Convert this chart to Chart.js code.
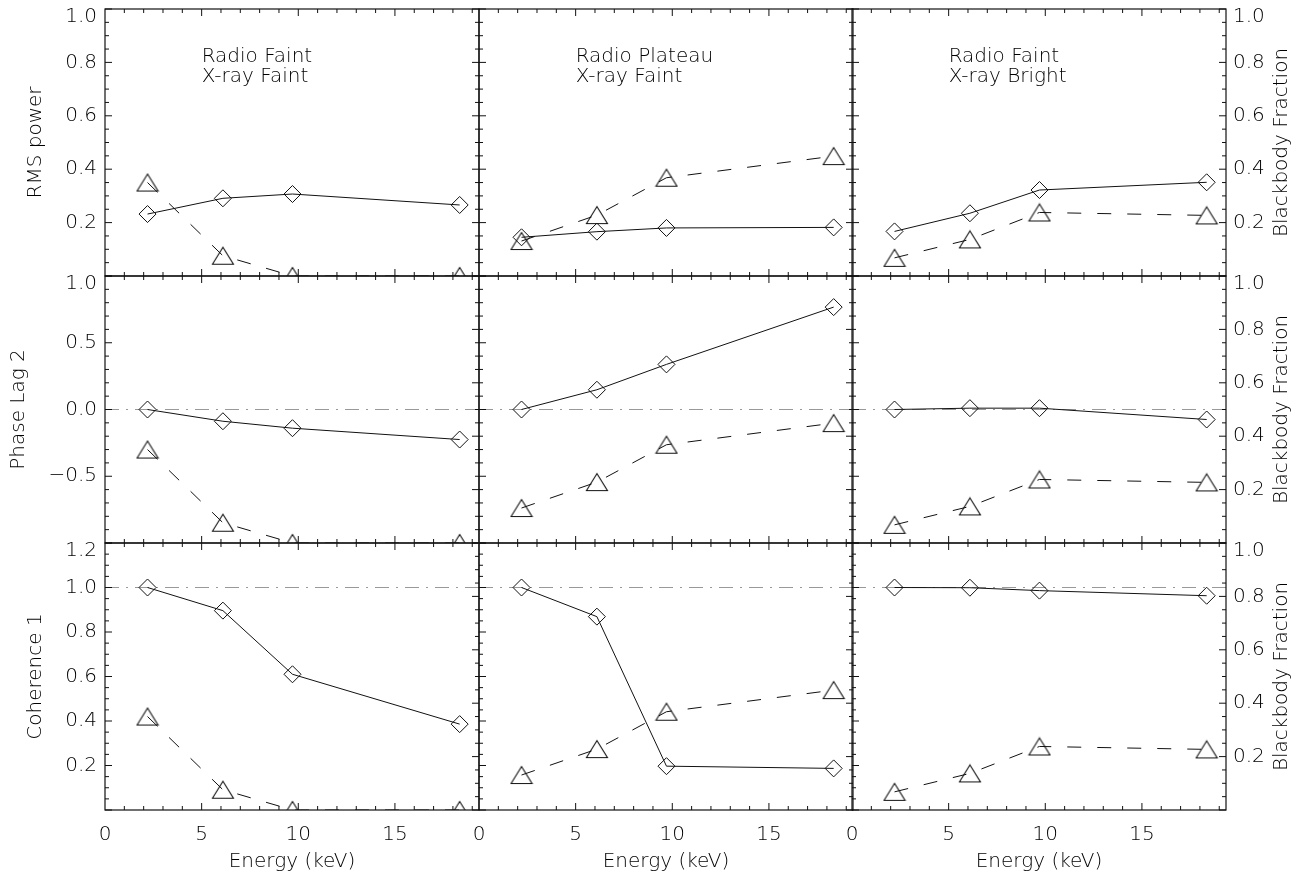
<!DOCTYPE html>
<html>
<head>
<meta charset="utf-8">
<script src="https://cdn.jsdelivr.net/npm/chart.js@4"></script>
<style>
  body { margin: 0; background: #fff; width: 1310px; height: 879px; position: relative; overflow: hidden; }
  canvas { position: absolute; }
</style>
</head>
<body>
<script>
// ---------------- Data ----------------
const energy = [2.2, 6.1, 9.7, 18.35];               // keV, same in all panels
const energyTicks = [0, 5, 10, 15];
const energyMax = 19.35;

const stateLabels = [['Radio Faint', 'X-ray Faint'], ['Radio Plateau', 'X-ray Faint'], ['Radio Faint', 'X-ray Bright']];
const rowTitles = ['RMS power', 'Phase Lag 2', 'Coherence 1'];

// one array per state (column)
const rmsPower  = [[0.232, 0.291, 0.307, 0.266], [0.145, 0.166, 0.180, 0.182], [0.167, 0.235, 0.322, 0.351]];
const phaseLag  = [[0.0, -0.088, -0.14, -0.225], [0.0, 0.148, 0.338, 0.767], [0.0, 0.01, 0.01, -0.075]];
const coherence = [[1.0, 0.896, 0.61, 0.386], [1.0, 0.869, 0.197, 0.187], [1.0, 0.999, 0.986, 0.963]];
const bbFraction = [[0.35, 0.076, 0.0, 0.0], [0.131, 0.228, 0.368, 0.449], [0.068, 0.137, 0.238, 0.227]];

const rmsTicks = [0, 0.2, 0.4, 0.6, 0.8, 1.0];
const lagTicks = [-1.0, -0.5, 0.0, 0.5, 1.0];
const cohTicks = [0, 0.2, 0.4, 0.6, 0.8, 1.0, 1.2];
const bbTicks  = [0, 0.2, 0.4, 0.6, 0.8, 1.0];

const rowSeries = [rmsPower, phaseLag, coherence];
const rowTicks = [rmsTicks, lagTicks, cohTicks];
const rowMinor = [0.05, 0.1, 0.05];
const bbMinor = 0.05;
const rowRefLine = [null, 0.0, 1.0];

// ---------------- Layout ----------------
const panelX = [105, 479, 852];
const panelY = [9, 276, 543];
const panelW = 374, panelH = 267;
const padL = 105, padR = 85, padT = 9, padB = 69;
const rowTitlePad = [24, 7, 24];

const INK = '#111';
const TEXT = '#000';
const FONT = { family: "'DejaVu Sans', sans-serif", size: 20, weight: '200' };
const fontStr = "200 20px 'DejaVu Sans', sans-serif";

const fmt = v => v.toFixed(1).replace('-', '\u2212');

// hollow IDL style triangle (centre of box on the data point)
function makeTriangle() {
  const cv = document.createElement('canvas');
  cv.width = 24; cv.height = 20;
  const g = cv.getContext('2d');
  g.strokeStyle = INK; g.lineWidth = 1.1;
  g.beginPath();
  g.moveTo(1.5, 18.5); g.lineTo(12, 1.5); g.lineTo(22.5, 18.5);
  g.closePath(); g.stroke();
  return cv;
}
const triangleImg = makeTriangle();

// fixed axis boxes, no label overhang padding
function fixBox(size, vertical) {
  return s => {
    if (vertical) s.width = size; else s.height = size;
    s.paddingTop = s.paddingBottom = s.paddingLeft = s.paddingRight = 0;
  };
}

// ---------------- Plugin: frame, inward ticks, labels ----------------
function tickRun(min, max, step, majors) {
  const n = Math.round((max - min) / step);
  const out = [];
  for (let k = 0; k <= n; k++) {
    const v = min + k * step;
    out.push({ v, major: majors.some(m => Math.abs(m - v) < 1e-6) });
  }
  return out;
}

const idlFrame = {
  id: 'idlFrame',
  beforeDatasetsDraw(chart, args, opts) {
    const ref = rowRefLine[opts.row];
    if (ref === null) return;
    const { ctx, chartArea: a } = chart;
    const y = chart.scales.y.getPixelForValue(ref);
    ctx.save();
    ctx.strokeStyle = '#999'; ctx.lineWidth = 1;
    ctx.setLineDash([14, 7, 2, 7]);
    ctx.beginPath(); ctx.moveTo(a.left, y); ctx.lineTo(a.right, y); ctx.stroke();
    ctx.restore();
  },
  afterDraw(chart, args, opts) {
    const { ctx, chartArea: a, scales } = chart;
    const { row, col } = opts;
    ctx.save();
    ctx.strokeStyle = INK; ctx.lineWidth = 1.2;
    ctx.strokeRect(a.left, a.top, a.right - a.left, a.bottom - a.top);

    ctx.lineWidth = 1;
    ctx.beginPath();
    // x ticks, bottom and top edges
    for (let v = 1; v < energyMax; v++) {
      const len = v % 5 === 0 ? 7 : 4;
      const x = scales.x.getPixelForValue(v);
      ctx.moveTo(x, a.bottom); ctx.lineTo(x, a.bottom - len);
      ctx.moveTo(x, a.top); ctx.lineTo(x, a.top + len);
    }
    // left y ticks
    const yt = rowTicks[row];
    tickRun(yt[0], yt[yt.length - 1], rowMinor[row], yt).forEach(t => {
      const y = scales.y.getPixelForValue(t.v);
      ctx.moveTo(a.left, y); ctx.lineTo(a.left + (t.major ? 7 : 4), y);
    });
    // right y ticks
    tickRun(bbTicks[0], bbTicks[bbTicks.length - 1], bbMinor, bbTicks).forEach(t => {
      const y = scales.y2.getPixelForValue(t.v);
      ctx.moveTo(a.right, y); ctx.lineTo(a.right - (t.major ? 7 : 4), y);
    });
    ctx.stroke();

    ctx.fillStyle = TEXT;
    ctx.font = fontStr;
    ctx.textBaseline = 'middle';
    // top tick labels sit just inside the panel, as IDL does
    if (col === 0) {
      ctx.textAlign = 'right';
      ctx.fillText(fmt(yt[yt.length - 1]), a.left - 8, a.top + 8);
    }
    if (col === 2) {
      ctx.textAlign = 'left';
      ctx.fillText(fmt(bbTicks[bbTicks.length - 1]), a.right + 7, a.top + 8);
      ctx.save();
      ctx.translate(1282 - (panelX[2] - padL), (a.top + a.bottom) / 2);
      ctx.rotate(-Math.PI / 2);
      ctx.textAlign = 'center';
      ctx.fillText('Blackbody Fraction', 0, 0);
      ctx.restore();
    }
    // state label in the top row
    if (row === 0) {
      ctx.textAlign = 'left';
      ctx.textBaseline = 'alphabetic';
      const x = scales.x.getPixelForValue(5);
      ctx.fillText(stateLabels[col][0], x, scales.y.getPixelForValue(0.8));
      ctx.fillText(stateLabels[col][1], x, scales.y.getPixelForValue(0.727));
    }
    ctx.restore();
  }
};

// ---------------- Panels ----------------
for (let r = 0; r < 3; r++) {
  for (let c = 0; c < 3; c++) {
    const cv = document.createElement('canvas');
    cv.width = padL + panelW + padR;
    cv.height = padT + panelH + padB;
    cv.style.left = (panelX[c] - padL) + 'px';
    cv.style.top = (panelY[r] - padT) + 'px';
    document.body.appendChild(cv);

    const yt = rowTicks[r];
    new Chart(cv, {
      type: 'line',
      data: {
        datasets: [{
          data: energy.map((e, i) => ({ x: e, y: rowSeries[r][c][i] })),
          yAxisID: 'y',
          borderColor: INK, borderWidth: 1,
          pointStyle: 'rectRot', pointRadius: 8.5,
          pointBorderColor: INK, pointBorderWidth: 1,
          pointBackgroundColor: 'rgba(0,0,0,0)',
          clip: 0
        }, {
          data: energy.map((e, i) => ({ x: e, y: bbFraction[c][i] })),
          yAxisID: 'y2',
          borderColor: INK, borderWidth: 1, borderDash: [14, 16],
          pointStyle: triangleImg, pointRadius: 10,
          clip: 0
        }]
      },
      options: {
        responsive: false,
        animation: false,
        devicePixelRatio: 1,
        layout: { padding: { top: padT, left: 0, right: 0, bottom: 0 }, autoPadding: false },
        plugins: {
          legend: { display: false },
          tooltip: { enabled: false },
          idlFrame: { row: r, col: c }
        },
        scales: {
          x: {
            type: 'linear', position: 'bottom', min: 0, max: energyMax,
            grid: { display: false, drawTicks: false }, border: { display: false },
            afterBuildTicks: s => { s.ticks = energyTicks.map(v => ({ value: v })); },
            afterFit: fixBox(padB, false),
            ticks: { display: r === 2, padding: 13, font: FONT, color: TEXT, maxRotation: 0, autoSkip: false, callback: v => String(v) },
            title: { display: r === 2, text: 'Energy (keV)', font: FONT, color: TEXT, padding: { top: 0, bottom: 5 } }
          },
          y: {
            type: 'linear', position: 'left', min: yt[0], max: yt[yt.length - 1],
            grid: { display: false, drawTicks: false }, border: { display: false },
            afterBuildTicks: s => { s.ticks = yt.map(v => ({ value: v })); },
            afterFit: fixBox(padL, true),
            ticks: { display: c === 0, padding: 8, font: FONT, color: TEXT, autoSkip: false,
                     callback: (v, i) => (i === 0 || i === yt.length - 1) ? '' : fmt(v) },
            title: { display: c === 0, text: rowTitles[r], font: FONT, color: TEXT, padding: { top: rowTitlePad[r], bottom: 0 } }
          },
          y2: {
            type: 'linear', position: 'right', min: bbTicks[0], max: bbTicks[bbTicks.length - 1],
            grid: { display: false, drawTicks: false }, border: { display: false },
            afterBuildTicks: s => { s.ticks = bbTicks.map(v => ({ value: v })); },
            afterFit: fixBox(padR, true),
            ticks: { display: c === 2, padding: 7, font: FONT, color: TEXT, autoSkip: false,
                     callback: (v, i) => (i === 0 || i === bbTicks.length - 1) ? '' : fmt(v) }
          }
        }
      },
      plugins: [idlFrame]
    });
  }
}
</script>
</body>
</html>
